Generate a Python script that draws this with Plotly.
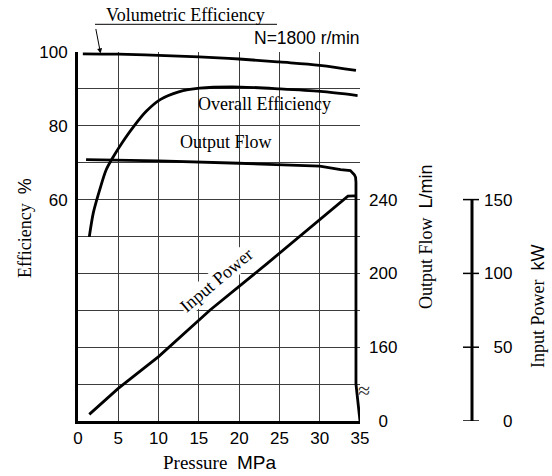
import plotly.graph_objects as go

# ---------------- data ----------------
pressure_ticks = [0, 5, 10, 15, 20, 25, 30, 35]
eff_grid = [0, 10, 20, 30, 40, 50, 60, 70, 80, 90, 100]
eff_labels = ["", "", "", "", "", "", "60", "", "80", "", "100"]
flow_tick_values = [0, 160, 200, 240]
power_tick_values = [0, 50, 100, 150]

pressure_vol = [0.6, 5, 10, 15, 20, 25, 30, 34.5]
vol_eff = [99.5, 99.4, 99.1, 98.7, 98.1, 97.3, 96.4, 95.0]

pressure_overall = [1.4, 1.9, 2.7, 3.5, 4.4, 5.5, 6.9, 8.5, 10.2, 12.5, 15.1, 20.2, 25.1, 30.1, 34.7]
overall_eff = [49.9, 56.4, 62.7, 68.1, 71.7, 75.5, 79.8, 84.0, 87.1, 89.2, 90.2, 90.5, 90.0, 89.3, 88.2]

pressure_flow = [1.0, 10, 20, 25, 30, 32.6, 33.8, 34.3, 34.45, 34.5, 34.5, 35.0]
output_flow = [261.7, 261.0, 259.7, 259.0, 258.1, 256.3, 255.7, 253.5, 252.1, 249.4, 140, 0]

pressure_power = [1.4, 5, 10, 16.4, 23.5, 33.5, 34.4]
input_power = [4.5, 22.1, 43.6, 75.2, 106.8, 152.4, 152.5]

# ---------------- broken flow axis ----------------
FLOW_BREAK = 140
FLOW_AXIS_MIN = 120


def flow_axis_value(v):
    if v >= FLOW_BREAK:
        return v
    return FLOW_AXIS_MIN + v * (FLOW_BREAK - FLOW_AXIS_MIN) / FLOW_BREAK


# ---------------- layout geometry (page px; body margin removed) ----------------
W, H = 552, 476
ML, MT = 78, 52
PLOT_RIGHT = 360       # px of x = 35
PAPER_RIGHT = 472      # px of the power axis
PLOT_BOTTOM = 421
MR = W - PAPER_RIGHT
MB = H - PLOT_BOTTOM
PW = PAPER_RIGHT - ML
PH = PLOT_BOTTOM - MT
x_domain_end = (PLOT_RIGHT - ML) / PW


def px_x(px):
    return (px - ML) / PW


def px_y(py):
    return (PLOT_BOTTOM - py) / PH


SERIF = "Liberation Serif"
SANS = "Liberation Sans"
GRID = "#3c3c3c"
LW = 2.8

fig = go.Figure()

fig.add_trace(go.Scatter(x=pressure_vol, y=vol_eff, mode="lines",
                         line=dict(color="black", width=LW, shape="spline"),
                         xaxis="x", yaxis="y", showlegend=False))
fig.add_trace(go.Scatter(x=pressure_overall, y=overall_eff, mode="lines",
                         line=dict(color="black", width=LW, shape="spline", smoothing=0.8),
                         xaxis="x", yaxis="y", showlegend=False))
fig.add_trace(go.Scatter(x=pressure_flow, y=[flow_axis_value(v) for v in output_flow],
                         mode="lines", line=dict(color="black", width=LW),
                         xaxis="x", yaxis="y2", showlegend=False))
fig.add_trace(go.Scatter(x=pressure_power, y=input_power, mode="lines",
                         line=dict(color="black", width=LW),
                         xaxis="x", yaxis="y3", showlegend=False))

tickfont = dict(family=SANS, size=17, color="black")

fig.update_layout(
    width=W, height=H, autosize=False,
    margin=dict(l=ML, r=MR, t=MT, b=MB, autoexpand=False),
    paper_bgcolor="white", plot_bgcolor="white",
    showlegend=False,
    xaxis=dict(domain=[0, x_domain_end], range=[0, 35], tickvals=pressure_ticks,
               showgrid=True, gridcolor=GRID, gridwidth=1, zeroline=False,
               showline=True, linecolor="black", linewidth=3, ticks="",
               tickfont=tickfont),
    yaxis=dict(range=[0, 100], tickvals=eff_grid, ticktext=eff_labels,
               showgrid=True, gridcolor=GRID, gridwidth=1, zeroline=False,
               showline=True, linecolor="black", linewidth=3, ticks="",
               ticklabelstandoff=4, tickfont=tickfont),
    yaxis2=dict(overlaying="y", side="right", anchor="x",
                range=[FLOW_AXIS_MIN, 320],
                tickvals=[flow_axis_value(v) for v in flow_tick_values],
                ticktext=["\u2007" + str(v) if v < 100 else str(v) for v in flow_tick_values],
                showgrid=False, zeroline=False, showline=False,
                ticks="", ticklabelstandoff=8,
                tickfont=tickfont),
    yaxis3=dict(overlaying="y", side="right", anchor="free", position=1,
                range=[0, 250], tickvals=power_tick_values,
                ticktext=[("\u2007" * (3 - len(str(v)))) + str(v) for v in power_tick_values],
                showgrid=False, zeroline=False, showline=False, ticks="",
                ticklabelstandoff=11, tickfont=tickfont),
)

# power axis line (0..150 kW only) and crossing ticks, in the power axis' own units
fig.add_shape(type="line", xref="paper", yref="y3", x0=1, x1=1,
              y0=power_tick_values[0], y1=power_tick_values[-1],
              line=dict(color="black", width=3))
for v in power_tick_values:
    fig.add_shape(type="line", xref="paper", yref="y3", xsizemode="pixel", xanchor=1,
                  x0=-9, x1=7, y0=v, y1=v, line=dict(color="black", width=1.5))

ann = []
C = dict(xanchor="center", yanchor="middle", showarrow=False)
# curve labels
ann.append(dict(x=23.2, y=86.0, xref="x", yref="y", text="Overall Efficiency",
                font=dict(family=SERIF, size=18, color="black"), **C))
ann.append(dict(x=18.4, y=75.5, xref="x", yref="y", text="Output Flow",
                font=dict(family=SERIF, size=18, color="black"), **C))
ann.append(dict(x=17.2, y=38.3, xref="x", yref="y", text="Input Power",
                textangle=-40, bgcolor="white", borderpad=0,
                font=dict(family=SERIF, size=18, color="black"), **C))
ann.append(dict(x=px_x(185), y=px_y(14.5), xref="paper", yref="paper",
                text="Volumetric Efficiency",
                font=dict(family=SERIF, size=18, color="black"), **C))
ann.append(dict(x=2.8, y=99.6, xref="x", yref="y", text="", showarrow=True,
                ax=-5, ay=-26, axref="pixel", ayref="pixel",
                arrowhead=2, arrowsize=1, arrowwidth=1, arrowcolor="black"))
ann.append(dict(x=px_x(252), y=px_y(38), xref="paper", yref="paper", xanchor="left",
                yanchor="middle", text="N=1800 r/min", showarrow=False,
                font=dict(family=SANS, size=17.5, color="black")))
# axis titles
ann.append(dict(x=px_x(219), y=px_y(462), xref="paper", yref="paper",
                text="Pressure  <span style='font-family:Liberation Sans'>MPa</span>",
                font=dict(family=SERIF, size=19, color="black"), **C))
ann.append(dict(x=px_x(25), y=px_y(228), xref="paper", yref="paper", textangle=-90,
                text="Efficiency  <span style='font-family:Liberation Sans'>%</span>",
                font=dict(family=SERIF, size=18, color="black"), **C))
ann.append(dict(x=px_x(426), y=px_y(237), xref="paper", yref="paper", textangle=-90,
                text="Output Flow  <span style='font-family:Liberation Sans'>L/min</span>",
                font=dict(family=SERIF, size=18, color="black"), **C))
ann.append(dict(x=px_x(538), y=px_y(306), xref="paper", yref="paper", textangle=-90,
                text="Input Power  <span style='font-family:Liberation Sans'>kW</span>",
                font=dict(family=SERIF, size=18, color="black"), **C))
# axis break mark
ann.append(dict(x=px_x(364), y=px_y(390), xref="paper", yref="paper", text="\u2248",
                font=dict(family=SERIF, size=22, color="#333"), **C))
fig.update_layout(annotations=ann)

fig.add_shape(type="line", xref="paper", yref="paper",
              x0=px_x(95), x1=px_x(277), y0=px_y(24.3), y1=px_y(24.3),
              line=dict(color="black", width=1))

fig.write_html("out.html", config={"displayModeBar": False},
               post_script="document.body.style.margin='0';")
